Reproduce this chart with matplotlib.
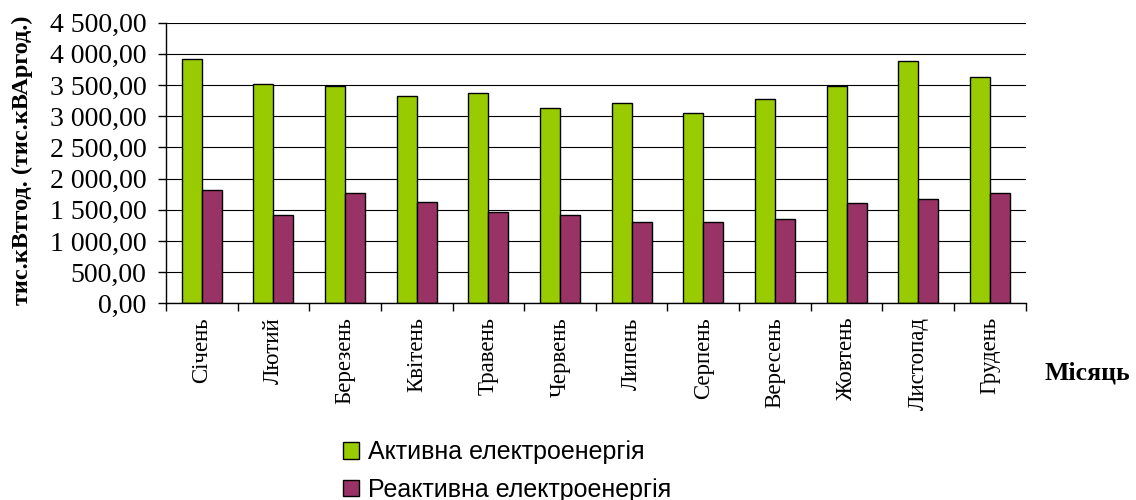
import numpy as np
import matplotlib
matplotlib.use("Agg")
import matplotlib.pyplot as plt
from matplotlib.ticker import FuncFormatter, MultipleLocator
from matplotlib.patches import Patch

months = ["Січень", "Лютий", "Березень", "Квітень", "Травень", "Червень",
          "Липень", "Серпень", "Вересень", "Жовтень", "Листопад", "Грудень"]
active = [3910, 3510, 3490, 3325, 3370, 3140, 3210, 3045, 3280, 3490, 3885, 3630]
reactive = [1810, 1410, 1775, 1625, 1460, 1410, 1300, 1300, 1345, 1610, 1675, 1775]

series_names = ["Активна електроенергія", "Реактивна електроенергія"]
colors = ["#99CC00", "#993366"]

fig = plt.figure(figsize=(11.36, 5.0), dpi=100)
ax = fig.add_axes([0.1461, 0.3934, 0.7568, 0.5612])

x = np.arange(len(months))
w = 0.279
ax.bar(x - w / 2, active, width=w, color=colors[0], edgecolor="black", linewidth=1.0, zorder=3)
ax.bar(x + w / 2, reactive, width=w, color=colors[1], edgecolor="black", linewidth=1.0, zorder=3)

ax.set_xlim(-0.5, len(months) - 0.5)
ax.set_ylim(0, 4500)
ax.yaxis.set_major_locator(MultipleLocator(500))


def fmt(v, pos):
    s = f"{v:,.2f}"
    return s.replace(",", " ").replace(".", ",")


ax.yaxis.set_major_formatter(FuncFormatter(fmt))
ax.grid(axis="y", color="black", linewidth=0.8, zorder=0)
ax.set_axisbelow(True)

for side in ["top", "right"]:
    ax.spines[side].set_visible(False)
for side in ["left", "bottom"]:
    ax.spines[side].set_linewidth(1.0)
    ax.spines[side].set_zorder(4)

serif = "Liberation Serif"
ax.set_xticks(x)
ax.set_xticklabels(months, rotation=90, ha="center", va="top",
                   family=serif, fontsize=16.5)
ax.tick_params(axis="x", which="major", length=0, pad=10)
ax.set_xticks(np.arange(-0.5, len(months), 1.0), minor=True)
ax.tick_params(axis="x", which="minor", length=6, width=1.0, direction="out")
ax.tick_params(axis="y", length=6, width=1.0, direction="out", pad=8)
for lab in ax.get_yticklabels():
    lab.set_family(serif)
    lab.set_fontsize(20)

fig.text(0.020, 0.68, "тис.кВтгод. (тис.кВАргод.)", family=serif, fontsize=17.5,
         fontweight="bold", rotation=90, ha="center", va="center")

fig.text(0.995, 0.255, "Місяць", family=serif, fontsize=18.5, fontweight="bold",
         ha="right", va="center")

handles = [Patch(facecolor=c, edgecolor="black", linewidth=1.0) for c in colors]
fig.legend(handles, series_names, loc="center left",
           bbox_to_anchor=(0.291, 0.058), frameon=False,
           prop={"family": "Liberation Sans", "size": 18},
           handlelength=0.65, handleheight=0.65, handletextpad=0.35,
           labelspacing=0.55, borderpad=0)

fig.savefig("out.png", dpi=100)
